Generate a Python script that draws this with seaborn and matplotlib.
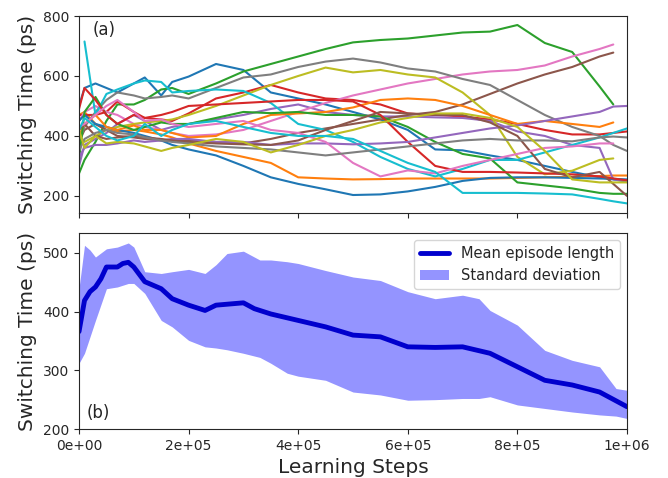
import numpy as np
import pandas as pd
import matplotlib
matplotlib.use("Agg")
import matplotlib.pyplot as plt
import seaborn as sns
from matplotlib.ticker import FormatStrFormatter

nan = np.nan

# learning steps (in units of 1e6) for the individual runs
STEPS = [0, .01, .03, .05, .07, .1, .12, .15, .17, .2, .25, .3, .35, .4, .45,
         .5, .55, .6, .65, .7, .75, .8, .85, .9, .95, .975, 1.0]

# switching time of each run (ps)
blue_1 = [500, 560, 575, 560, 545, 575, 595, 535, 580, 598, 640, 620, 545, 525, 505,
          480, 455, 420, 355, 352, 335, 320, 300, 280, 262, 255, 248]
orange_1 = [470, 480, 440, 420, 415, 420, 415, 405, 395, 375, 350, 330, 310, 262, 258,
            255, 256, 258, 258, 258, 258, 260, 262, 264, 266, 268, 268]
green_1 = [275, 320, 380, 450, 505, 505, 520, 555, 560, 540, 575, 615, 640, 665, 690,
           712, 720, 725, 735, 745, 748, 770, 710, 680, 565, 505, nan]
red_1 = [470, 470, 470, 480, 515, 480, 460, 455, 450, 475, 525, 545, 570, 545, 525,
         520, 505, 475, 470, 465, 455, 440, 420, 405, 405, 410, 415]
purple_1 = [300, 370, 390, 410, 440, 470, 450, 420, 430, 440, 455, 470, 490, 505, 480,
            470, 465, 465, 462, 460, 450, 415, 400, 370, 360, 255, 250]
brown_1 = [380, 420, 440, 420, 400, 395, 390, 385, 385, 385, 380, 375, 390, 410, 425,
           440, 455, 470, 480, 505, 540, 575, 605, 630, 665, 678, nan]
pink_1 = [450, 480, 500, 480, 470, 440, 430, 420, 410, 400, 405, 420, 450, 480, 510,
          535, 555, 575, 590, 605, 615, 620, 635, 665, 690, 705, nan]
gray_1 = [380, 430, 480, 520, 545, 535, 525, 530, 535, 525, 560, 595, 605, 630, 648,
          658, 645, 625, 615, 590, 570, 520, 470, 430, 400, 370, 350]
olive_1 = [400, 380, 400, 420, 430, 440, 445, 450, 455, 470, 500, 535, 570, 600, 628,
           612, 620, 605, 595, 545, 470, 330, 272, 284, 320, 325, nan]
cyan_1 = [nan, 715, 470, 540, 555, 575, 585, 580, 545, 550, 555, 550, 510, 440, 420,
          380, 330, 290, 265, 290, 320, 320, 345, 370, 395, 410, 425]
blue_2 = [450, 470, 440, 430, 420, 410, 400, 385, 370, 355, 335, 300, 262, 240, 222,
          203, 205, 215, 230, 250, 260, 262, 262, 260, 258, 257, 255]
orange_2 = [400, 440, 470, 430, 420, 435, 420, 420, 410, 395, 400, 440, 470, 475, 480,
            495, 520, 525, 520, 500, 470, 440, 450, 440, 430, 445, nan]
green_2 = [320, 480, 530, 470, 440, 420, 430, 445, 440, 440, 460, 480, 476, 480, 470,
           470, 465, 430, 380, 340, 325, 245, 235, 225, 210, 207, 207]
red_2 = [490, 560, 520, 470, 440, 470, 460, 470, 480, 500, 505, 510, 515, 520, 520,
         515, 470, 380, 300, 280, 280, 278, 275, 272, 265, 258, 252]
purple_2 = [330, 360, 370, 370, 375, 385, 380, 385, 390, 390, 380, 380, 370, 375, 375,
            372, 375, 380, 395, 410, 425, 435, 450, 465, 480, 498, 500]
brown_2 = [420, 440, 400, 390, 395, 400, 395, 390, 385, 380, 375, 372, 370, 385, 420,
           450, 480, 475, 470, 470, 445, 400, 290, 262, 280, 240, 200]
pink_2 = [430, 440, 470, 500, 520, 480, 450, 455, 440, 430, 440, 450, 420, 410, 380,
          310, 265, 285, 275, 300, 320, 340, 360, 365, 375, 375, nan]
gray_2 = [350, 390, 410, 420, 410, 405, 395, 385, 380, 375, 365, 360, 355, 345, 335,
          345, 355, 365, 375, 385, 390, 385, 385, 382, 395, 398, 395]
olive_2 = [420, 360, 400, 375, 380, 375, 365, 350, 360, 370, 390, 380, 345, 370, 400,
           420, 445, 460, 475, 475, 460, 430, 350, 255, 245, 245, 245]
cyan_2 = [420, 460, 430, 400, 385, 400, 440, 400, 420, 440, 450, 430, 410, 400, 400,
          390, 350, 310, 280, 210, 210, 210, 208, 205, 190, 182, 175]

RUNS = [blue_1, orange_1, green_1, red_1, purple_1, brown_1, pink_1, gray_1, olive_1, cyan_1,
        blue_2, orange_2, green_2, red_2, purple_2, brown_2, pink_2, gray_2, olive_2, cyan_2]

# panel (b): mean curve
MEAN_STEPS = [0, .01, .02, .03, .04, .05, .07, .08, .09, .1, .12, .15, .17, .2, .23, .25,
              .3, .32, .35, .4, .45, .5, .55, .6, .65, .7, .75, .8, .85, .9, .95, 1.0]
MEAN_TIME = [366, 419, 434, 442, 456, 476, 476, 482, 484, 476, 451, 439, 422, 411, 402, 411,
             415, 405, 396, 385, 374, 360, 357, 340, 339, 340, 329, 306, 283, 275, 263, 238]

# panel (b): standard deviation band
BAND_STEPS = [0, .01, .02, .03, .05, .07, .09, .1, .12, .15, .17, .2, .23, .25, .27, .3, .33,
              .35, .38, .4, .45, .5, .55, .6, .65, .7, .73, .75, .8, .85, .9, .95, .98, 1.0]
BAND_UPPER = [440, 513, 505, 493, 507, 510, 517, 510, 468, 465, 468, 472, 465, 480, 499, 503, 488,
              488, 485, 482, 470, 459, 453, 434, 422, 428, 422, 402, 377, 334, 317, 306, 269, 266]
BAND_LOWER = [312, 329, 357, 385, 439, 442, 448, 448, 431, 385, 374, 351, 340, 338, 335, 329, 322,
              312, 295, 290, 283, 263, 258, 249, 250, 252, 252, 255, 241, 235, 229, 224, 222, 218]


sns.set_style("ticks")
plt.rcParams["font.family"] = ["DejaVu Sans"]

runs_df = pd.DataFrame({
    "step": np.tile(np.array(STEPS) * 1e6, len(RUNS)),
    "time": np.concatenate([np.array(r, dtype=float) for r in RUNS]),
    "run": np.repeat(np.arange(len(RUNS)), len(STEPS)),
}).dropna()

mean_df = pd.DataFrame({"step": np.array(MEAN_STEPS) * 1e6, "time": MEAN_TIME})

fig = plt.figure(figsize=(6.68, 4.78), dpi=100)
ax1 = fig.add_axes([0.1183, 0.5544, 0.8203, 0.4121])
ax2 = fig.add_axes([0.1183, 0.1025, 0.8203, 0.4101], sharex=ax1)

# (a) every run
palette = sns.color_palette("tab10", 10) * 2
sns.lineplot(
    data=runs_df, x="step", y="time", hue="run",
    palette=palette, legend=False, linewidth=1.5, ax=ax1
)
ax1.set_ylim(143, 800)
ax1.set_yticks([200, 400, 600, 800])
ax1.set_xlabel("")
ax1.set_ylabel("Switching Time (ps)", fontsize=14.5)
ax1.tick_params(labelbottom=False, labelsize=10)
ax1.text(0.024, 0.93, "(a)", transform=ax1.transAxes, fontsize=12, va="center")

# (b) mean and spread
ax2.fill_between(
    np.array(BAND_STEPS) * 1e6, BAND_LOWER, BAND_UPPER,
    color="blue", alpha=0.42, linewidth=0, label="Standard deviation"
)
sns.lineplot(
    data=mean_df, x="step", y="time", color="mediumblue",
    linewidth=3.5, label="Mean episode length", ax=ax2
)
ax2.set_xlim(0, 1e6)
ax2.set_ylim(200, 534)
ax2.set_yticks([200, 300, 400, 500])
ax2.set_xticks([0, 2e5, 4e5, 6e5, 8e5, 1e6])
ax2.xaxis.set_major_formatter(FormatStrFormatter("%.0e"))
ax2.tick_params(labelsize=10)
ax2.set_xlabel("Learning Steps", fontsize=14.5)
ax2.set_ylabel("Switching Time (ps)", fontsize=14.5)
ax2.text(0.013, 0.08, "(b)", transform=ax2.transAxes, fontsize=12, va="center")

handles, labels = ax2.get_legend_handles_labels()
order = [labels.index("Mean episode length"), labels.index("Standard deviation")]
ax2.legend([handles[i] for i in order], [labels[i] for i in order],
           loc="upper right", fontsize=10.5)

fig.savefig("out.png", dpi=100)
